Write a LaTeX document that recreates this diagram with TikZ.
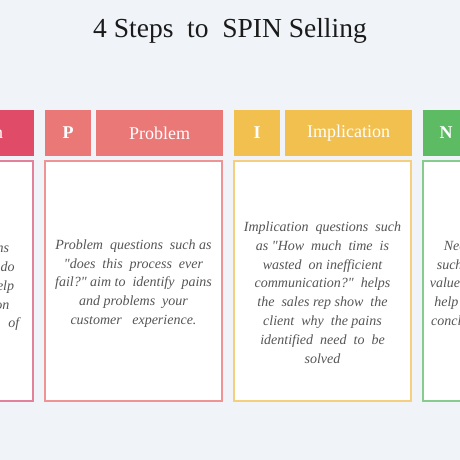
\documentclass[tikz,border=0pt]{standalone}
\usepackage{fontspec}
\setmainfont{Liberation Serif}[Ligatures=TeXOff]
\definecolor{bg}{HTML}{F0F3F8}
\definecolor{sred}{HTML}{E04C68}
\definecolor{sredl}{HTML}{E3809A}
\definecolor{psal}{HTML}{E97876}
\definecolor{psall}{HTML}{EE9494}
\definecolor{igold}{HTML}{F2C04E}
\definecolor{igoldl}{HTML}{F5CF7E}
\definecolor{ngreen}{HTML}{5DBB63}
\definecolor{ngreenl}{HTML}{86CC8E}
\definecolor{txtgray}{HTML}{555555}
\definecolor{titlec}{HTML}{1A1A1A}
\tikzset{
  letterbox/.style={fill=#1, draw=none, minimum width=46pt, minimum height=46pt, inner sep=0pt, text=white, font=\bfseries\fontsize{18}{20}\selectfont},
  titlebox/.style={fill=#1, draw=none, minimum width=127pt, minimum height=46pt, inner sep=0pt, text=white, font=\fontsize{18}{20}\selectfont},
  contentbox/.style={fill=white, draw=#1, line width=1.1pt, minimum width=177pt, minimum height=240pt, inner sep=0pt},
  bodytext/.style={font=\itshape\fontsize{14}{18.8}\selectfont, text=txtgray, align=center, inner sep=0pt},
}
\begin{document}
\begin{tikzpicture}[x=1pt,y=1pt]
\useasboundingbox (0,0) rectangle (460,460);
\clip (0,0) rectangle (460,460);
\fill[bg] (0,0) rectangle (460,460);
\node[anchor=base, text=titlec, font=\fontsize{27.5}{30}\selectfont] (title) at (230,422) {4 Steps\ \ to\ \ SPIN Selling};
% column S
\node[letterbox=sred] (sL) at (-121,327) {S};
\node[titlebox=sred] (sT) at (-29.5,327) {Situation};
\node[contentbox=sredl] (sC) at (-55.5,179) {};
\node[bodytext] (sX) at (-55.5,173) {Ask situation questions\\ such\ \ as\ \ "what\ \ tools\ \ do\\ you\ \ use in\ \ sales?"\ \ help\\ you gather information\\ to understand the state\ \ \ of};
% column P
\node[letterbox=psal] (pL) at (68,327) {P};
\node[titlebox=psal] (pT) at (159.5,327) {Problem};
\node[contentbox=psall] (pC) at (133.5,179) {};
\node[bodytext] (pX) at (133.5,176.5) {Problem\ \ questions\ \ such as\\ "does\ \ this\ \ process\ \ ever\\ fail?" aim to\ \ identify\ \ pains\\ and problems\ \ your\\ customer\ \ \ experience.};
% column I
\node[letterbox=igold] (iL) at (257,327) {I};
\node[titlebox=igold] (iT) at (348.5,327) {Implication};
\node[contentbox=igoldl] (iC) at (322.5,179) {};
\node[bodytext] (iX) at (322.5,167.5) {Implication\ \ questions\ \ such\\ as "How\ \ much\ \ time\ \ is\\ wasted\ \ on inefficient\\ communication?"\ \ helps\\ the\ \ sales rep show\ \ the\\ client\ \ why\ \ the pains\\ identified\ \ need\ \ to\ \ be\\ solved};
% column N
\node[letterbox=ngreen] (nL) at (446,327) {N};
\node[titlebox=ngreen] (nT) at (537.5,327) {Need-payoff};
\node[contentbox=ngreenl] (nC) at (511.5,179) {};
\node[bodytext] (nX) at (511.5,177) {Need-payoff\ \ \ \ questions\\ such\ \ as "How\ \ would\ \ this\\ value will this bring to you?"\\ help the sales rep to lead to\\ conclusions about a solution};
\end{tikzpicture}
\end{document}
